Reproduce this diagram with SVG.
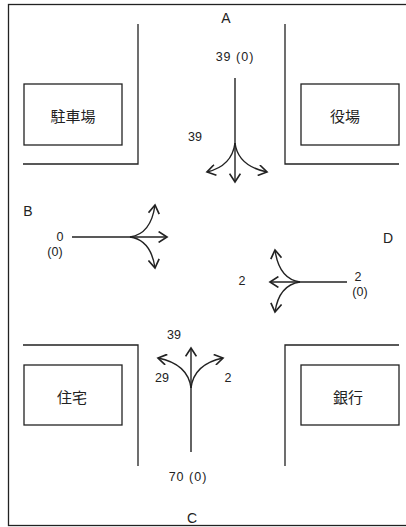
<svg xmlns="http://www.w3.org/2000/svg" width="406" height="527" viewBox="0 0 406 527">
<style>
.ln{stroke:#222;stroke-width:1.3;fill:none}
.bx{stroke:#222;stroke-width:1.3;fill:#fff}
.t{font-family:"Liberation Sans",Arial,sans-serif;font-size:12.5px;fill:#222;text-anchor:middle;dominant-baseline:central}
.L{font-size:14px}
.j{font-family:"Noto Sans CJK JP","Noto Sans CJK SC",sans-serif;font-size:15px;fill:#222;text-anchor:middle;dominant-baseline:central}
.ar{stroke:#222;stroke-width:1.4;fill:none;marker-end:url(#ah)}
</style>
<defs>
<marker id="ah" markerUnits="userSpaceOnUse" markerWidth="12" markerHeight="12" refX="8" refY="5" orient="auto" viewBox="0 0 10 10">
<path d="M1,0.5 L8,5 L1,9.5" fill="none" stroke="#222" stroke-width="1.4"/>
</marker>
</defs>
<rect x="0" y="0" width="406" height="527" fill="#fff"/>
<rect x="8.5" y="4.5" width="410" height="521" fill="none" stroke="#222" stroke-width="1.3"/>
<g id="blocks">
<path class="ln" d="M23,164 H138 V24"/>
<path class="ln" d="M285,24 V164 H399"/>
<path class="ln" d="M23,345 H138 V466"/>
<path class="ln" d="M285,466 V345 H399"/>
</g>
<g id="parking"><rect class="bx" x="24" y="84" width="98" height="61"/><text class="j" x="73" y="115">駐車場</text></g>
<g id="townhall"><rect class="bx" x="301" y="84" width="98" height="61"/><text class="j" x="345" y="115">役場</text></g>
<g id="house"><rect class="bx" x="24" y="365" width="98" height="60"/><text class="j" x="72" y="396">住宅</text></g>
<g id="bank"><rect class="bx" x="301" y="365" width="98" height="60"/><text class="j" x="348" y="396">銀行</text></g>
<g id="labels">
<text class="t L" x="226" y="18">A</text>
<text class="t L" x="28" y="211">B</text>
<text class="t L" x="192" y="518">C</text>
<text class="t L" x="388" y="238">D</text>
<text class="t" x="235" y="57" style="letter-spacing:1px">39 (0)</text>
<text class="t" x="195" y="137">39</text>
<text class="t" x="60" y="237">0</text>
<text class="t" x="55" y="252">(0)</text>
<text class="t" x="242" y="281">2</text>
<text class="t" x="358" y="277">2</text>
<text class="t" x="360" y="292">(0)</text>
<text class="t" x="174" y="335">39</text>
<text class="t" x="162" y="378">29</text>
<text class="t" x="228" y="378">2</text>
<text class="t" x="188" y="477" style="letter-spacing:1px">70 (0)</text>
</g>
<g id="connectors">
<line class="ar" x1="235" y1="78" x2="235" y2="182"/>
<path class="ar" d="M235,143 Q232,166 207,172"/>
<path class="ar" d="M235,143 Q238,166 267,172"/>
<line class="ar" x1="72" y1="237" x2="167" y2="237"/>
<path class="ar" d="M130,237 Q151,234 155,205"/>
<path class="ar" d="M130,237 Q151,240 155,268"/>
<line class="ar" x1="347" y1="282" x2="270" y2="282"/>
<path class="ar" d="M300,282 Q279,279 275,250"/>
<path class="ar" d="M300,282 Q279,285 275,312"/>
<line class="ar" x1="191" y1="452" x2="191" y2="348"/>
<path class="ar" d="M191,388 Q188,364 158,358"/>
<path class="ar" d="M191,388 Q194,364 223,358"/>
</g>
</svg>
